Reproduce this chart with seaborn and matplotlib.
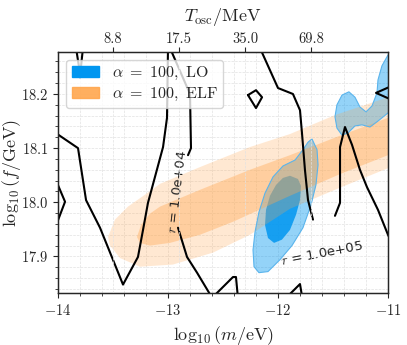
import numpy as np
import pandas as pd
import seaborn as sns
import matplotlib
matplotlib.use('Agg')
import matplotlib.pyplot as plt
from matplotlib.patches import Patch
from matplotlib.ticker import MultipleLocator

# ---- data (log10 m / eV, log10 f / GeV) ----

# ELF band, outer (light) and inner (darker) credible regions
elf_outer_x = [-13.545, -13.482, -13.364, -13.209, -13.073, -12.709, -12.255, -11.891, -11.482,
               -11.0, -10.709, -10.709, -11.0, -11.436, -11.891, -12.255, -12.591, -12.955,
               -13.255, -13.436, -13.527]
elf_outer_y = [17.936, 17.968, 17.992, 18.014, 18.034, 18.065, 18.102, 18.126, 18.161,
               18.194, 18.217, 18.078, 18.063, 18.027, 17.988, 17.940, 17.907, 17.885,
               17.881, 17.897, 17.920]
elf_inner_x = [-13.282, -13.245, -13.164, -13.073, -12.709, -12.255, -11.891, -11.436, -11.0,
               -10.709, -10.709, -11.0, -11.436, -11.891, -12.409, -12.709, -12.982, -13.164,
               -13.255]
elf_inner_y = [17.936, 17.958, 17.979, 17.992, 18.023, 18.060, 18.087, 18.123, 18.156,
               18.178, 18.110, 18.087, 18.052, 18.012, 17.964, 17.940, 17.925, 17.920,
               17.925]

# LO regions: main blob (outer + inner) and the blob at the upper right
lo_outer_x = [-11.691, -11.645, -11.636, -11.655, -11.700, -11.773, -11.873, -11.982, -12.091,
              -12.173, -12.218, -12.227, -12.209, -12.173, -12.118, -12.045, -11.955, -11.845,
              -11.773, -11.727]
lo_outer_y = [18.117, 18.097, 18.069, 18.032, 17.995, 17.953, 17.920, 17.894, 17.872,
              17.870, 17.881, 17.912, 17.945, 17.982, 18.017, 18.047, 18.067, 18.078,
              18.097, 18.111]
lo_inner_x = [-11.891, -11.818, -11.791, -11.800, -11.836, -11.891, -11.964, -12.036, -12.091,
              -12.118, -12.109, -12.073, -12.018, -11.955]
lo_inner_y = [18.049, 18.043, 18.030, 18.004, 17.977, 17.949, 17.931, 17.925, 17.934,
              17.958, 17.986, 18.012, 18.032, 18.045]
lo_blob2_x = [-10.936, -11.0, -11.055, -11.091, -11.100, -11.145, -11.200, -11.255, -11.300,
              -11.355, -11.418, -11.464, -11.482, -11.464, -11.418, -11.364, -11.300, -11.236,
              -11.164, -11.091, -11.0, -10.936]
lo_blob2_y = [18.285, 18.272, 18.252, 18.226, 18.202, 18.178, 18.167, 18.176, 18.194,
              18.204, 18.198, 18.180, 18.158, 18.137, 18.124, 18.128, 18.141, 18.143,
              18.139, 18.150, 18.165, 18.170]

# r contours (black lines)
line_a_x = [-13.836, -13.809, -13.800, -13.791, -13.773]
line_a_y = [18.285, 18.250, 18.230, 18.250, 18.285]
line_b_x = [-14.05, -13.818, -13.745, -13.618, -13.409, -13.273, -13.227, -13.182, -13.045, -13.009, -13.0]
line_b_y = [18.132, 18.100, 18.004, 17.953, 17.848, 17.899, 17.949, 17.999, 18.102, 18.156, 18.285]
line_c_x = [-12.982, -12.800, -12.791, -12.818]
line_c_y = [18.285, 18.200, 18.100, 18.087]
line_d_x = [-12.909, -12.827, -12.736, -12.609, -12.582, -12.409, -12.382, -12.364]
line_d_y = [17.953, 17.899, 17.870, 17.827, 17.827, 17.862, 17.862, 17.823]
line_e_x = [-14.009, -13.936, -14.009]
line_e_y = [18.036, 18.001, 17.962]
line_f_x = [-11.909, -11.800, -11.782]
line_f_y = [17.827, 17.849, 17.827]
line_g_x = [-12.164, -12.0, -11.864, -11.800, -11.782, -11.755, -11.727, -11.682]
line_g_y = [18.285, 18.211, 18.200, 18.170, 18.128, 18.060, 18.004, 17.968]
line_h_x = [-11.482, -11.436, -11.436, -11.391, -11.327, -11.255, -11.191, -11.091, -11.0, -10.936]
line_h_y = [17.975, 17.999, 18.102, 18.139, 18.106, 18.060, 18.028, 17.986, 17.940, 17.912]
line_i_x = [-10.964, -11.109, -10.964]
line_i_y = [18.215, 18.202, 18.189]
loop_x = [-12.273, -12.200, -12.145, -12.200, -12.273]
loop_y = [18.198, 18.207, 18.194, 18.174, 18.198]

# top axis: oscillation temperature
t_osc_logm = [-13.5, -12.9, -12.3, -11.7]
t_osc_mev = [8.8, 17.5, 35.0, 69.8]

# ---- style ----
sns.set_style('ticks')
plt.rcParams['font.family'] = 'serif'
plt.rcParams['font.serif'] = ['cmr10']
plt.rcParams['mathtext.fontset'] = 'cm'
plt.rcParams['axes.formatter.use_mathtext'] = True
plt.rcParams['axes.unicode_minus'] = True

blue = '#0096f0'
orange = '#ffa64d'

fig = plt.figure(figsize=(4.07, 3.45), dpi=100)
ax = fig.add_axes([0.1425, 0.150, 0.8108, 0.700])

# LO fills (drawn first, ELF lies over them)
ax.fill(lo_outer_x, lo_outer_y, color=blue, alpha=0.42, lw=0)
ax.fill(lo_blob2_x, lo_blob2_y, color=blue, alpha=0.42, lw=0)
ax.fill(lo_inner_x, lo_inner_y, color=blue, alpha=0.85, lw=0)

# ELF band
ax.fill(elf_outer_x, elf_outer_y, color=orange, alpha=0.25, lw=0)
ax.fill(elf_inner_x, elf_inner_y, color=orange, alpha=0.38, lw=0)

# LO outlines
ax.fill(lo_outer_x, lo_outer_y, fill=False, ec='#5ab4ec', lw=0.8)
ax.fill(lo_blob2_x, lo_blob2_y, fill=False, ec='#5ab4ec', lw=0.8)

# contours of r
segs = {'a': (line_a_x, line_a_y), 'b': (line_b_x, line_b_y), 'c': (line_c_x, line_c_y),
        'd': (line_d_x, line_d_y), 'e': (line_e_x, line_e_y), 'f': (line_f_x, line_f_y),
        'g': (line_g_x, line_g_y), 'h': (line_h_x, line_h_y), 'i': (line_i_x, line_i_y),
        'loop': (loop_x, loop_y)}
rows = []
for name, (xs, ys) in segs.items():
    for k, (xv, yv) in enumerate(zip(xs, ys)):
        rows.append({'seg': name, 'order': k, 'logm': xv, 'logf': yv})
contours = pd.DataFrame(rows)

sns.lineplot(data=contours, x='logm', y='logf', units='seg', estimator=None,
             sort=False, color='black', lw=1.5, ax=ax)

ax.text(-12.91, 18.019, r'$r$ = 1.0e+04', rotation=83, fontsize=9.5, family='DejaVu Sans',
        color='#222222', ha='center', va='center')
ax.text(-11.60, 17.905, r'$r$ = 1.0e+05', rotation=11, fontsize=9.5, family='DejaVu Sans',
        color='#222222', ha='center', va='center')

ax.set_xlim(-14, -11)
ax.set_ylim(17.832, 18.278)
ax.xaxis.set_major_locator(MultipleLocator(1))
ax.xaxis.set_minor_locator(MultipleLocator(0.2))
ax.yaxis.set_major_locator(MultipleLocator(0.1))
ax.yaxis.set_minor_locator(MultipleLocator(0.02))
ax.grid(True, which='both', color='#e2e2e2', lw=0.5, ls='--')
ax.set_axisbelow(True)
ax.tick_params(labelsize=10.5)
ax.set_xlabel(r'$\log_{10}(m/\mathrm{eV})$', fontsize=13)
ax.set_ylabel(r'$\log_{10}(f/\mathrm{GeV})$', fontsize=13)
ax.yaxis.set_label_coords(-0.107, 0.5)
for s in ax.spines.values():
    s.set_linewidth(1.0)

ax2 = ax.twiny()
ax2.set_xlim(ax.get_xlim())
ax2.set_xticks(t_osc_logm)
ax2.set_xticklabels([f'{t:.1f}' for t in t_osc_mev])
ax2.tick_params(labelsize=10.5, pad=0.5)
ax2.grid(True, which='major', color='#e2e2e2', lw=0.5, ls='--')
ax2.set_xlabel(r'$T_{\rm osc}/\mathrm{MeV}$', fontsize=13, labelpad=8)

handles = [Patch(color=blue, label=r'$\alpha\ =\ 100,\ \mathrm{LO}$'),
           Patch(color=orange, alpha=0.9, label=r'$\alpha\ =\ 100,\ \mathrm{ELF}$')]
ax2.legend(handles=handles, loc='upper left', fontsize=11.5, framealpha=0.8,
           labelspacing=0.2, borderpad=0.35, handlelength=1.7)

fig.savefig('out.png', dpi=100)
